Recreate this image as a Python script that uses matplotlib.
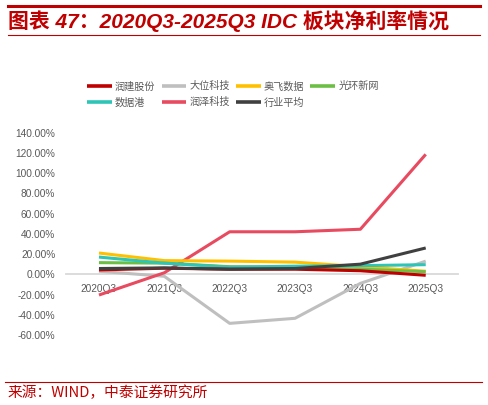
import matplotlib
matplotlib.use("Agg")
import matplotlib.pyplot as plt
from matplotlib.ticker import FuncFormatter, MultipleLocator

plt.rcParams['font.family'] = ['Liberation Sans', 'Noto Sans CJK SC', 'DejaVu Sans']

quarters = ["2020Q3", "2021Q3", "2022Q3", "2023Q3", "2024Q3", "2025Q3"]
series_names = ["润建股份", "大位科技", "奥飞数据", "光环新网", "数据港", "润泽科技", "行业平均"]
runjian = [4.3, 6.0, 5.0, 5.0, 3.5, -1.0]
dawei = [3.0, -2.0, -48.5, -43.5, -9.0, 13.0]
aofei = [21.0, 13.5, 13.0, 12.0, 7.5, 3.0]
guanghuan = [11.5, 11.0, 7.5, 7.0, 5.0, 2.5]
shujugang = [17.0, 11.0, 7.0, 8.0, 8.5, 9.5]
runze = [-20.5, 1.5, 42.0, 42.0, 44.5, 118.5]
hangye = [5.7, 6.3, 5.0, 5.7, 10.0, 26.0]
series_values = [runjian, dawei, aofei, guanghuan, shujugang, runze, hangye]
colors = ["#C00000", "#BFBFBF", "#FFC000", "#6DBE45", "#2EC4B6", "#E84A5F", "#404040"]
draw_order = [1, 5, 2, 3, 4, 0, 6]
legend_order = [0, 4, 1, 5, 2, 6, 3]  # column-major fill -> row-major appearance

W, H = 488, 405
fig = plt.figure(figsize=(W / 100, H / 100), dpi=100)

# header / footer decorations
fig.add_artist(plt.Line2D([8 / W, 480 / W], [1 - 6 / H, 1 - 6 / H], color="#C00000", lw=2.2))
fig.add_artist(plt.Line2D([8 / W, 480 / W], [1 - 35 / H, 1 - 35 / H], color="#C00000", lw=0.8))
fig.add_artist(plt.Line2D([5 / W, 482 / W], [1 - 382 / H, 1 - 382 / H], color="#C00000", lw=0.8))
fig.text(8 / W, 1 - 21 / H, "图表 47：2020Q3-2025Q3 IDC 板块净利率情况", color="#C00000",
         fontsize=15.0, fontweight="bold", fontstyle="italic", va="center", ha="left",
         family=['Liberation Sans', 'Noto Sans CJK SC'])
fig.text(8 / W, 1 - 393 / H, "来源：WIND，中泰证券研究所", color="#C00000",
         fontsize=10.6, va="center", ha="left", family=['Noto Sans CJK SC', 'DejaVu Sans'])

ax = fig.add_axes([66.3 / W, 1 - 335 / H, 392.1 / W, 202.4 / H])
x = list(range(len(quarters)))
handles = {}
for i in draw_order:
    (ln,) = ax.plot(x, series_values[i], color=colors[i], lw=2.2, solid_capstyle="butt",
                    label=series_names[i], zorder=3)
    handles[i] = ln

ax.set_xlim(-0.5, 5.5)
ax.set_ylim(-60, 140)
ax.yaxis.set_major_locator(MultipleLocator(20))
ax.yaxis.set_major_formatter(FuncFormatter(lambda v, p: f"{v:.2f}%"))
ax.set_xticks(x)
ax.set_xticklabels(quarters)
for s in ["top", "right", "left"]:
    ax.spines[s].set_visible(False)
ax.spines["bottom"].set_position(("data", 0))
ax.spines["bottom"].set_color("#D9D9D9")
ax.spines["bottom"].set_linewidth(1.3)
ax.spines["bottom"].set_zorder(1)
ax.tick_params(axis="both", length=0, labelsize=7.3, colors="#595959")
ax.tick_params(axis="x", pad=7)
ax.tick_params(axis="y", pad=8)
for lab in ax.get_xticklabels() + ax.get_yticklabels():
    lab.set_family(['Liberation Sans', 'DejaVu Sans'])
ax.set_facecolor("none")

leg = fig.legend([handles[i] for i in legend_order], [series_names[i] for i in legend_order],
                 ncol=4, loc="upper left", bbox_to_anchor=(80 / W, 1 - 74 / H),
                 frameon=False, handlelength=2.45, handletextpad=0.3,
                 columnspacing=0.6, labelspacing=0.6, borderpad=0.2,
                 prop={'family': ['Noto Sans CJK SC'], 'size': 7.3})
for t in leg.get_texts():
    t.set_color("#595959")
for l in leg.get_lines():
    l.set_linewidth(2.6)

fig.savefig("out.png", dpi=100)
